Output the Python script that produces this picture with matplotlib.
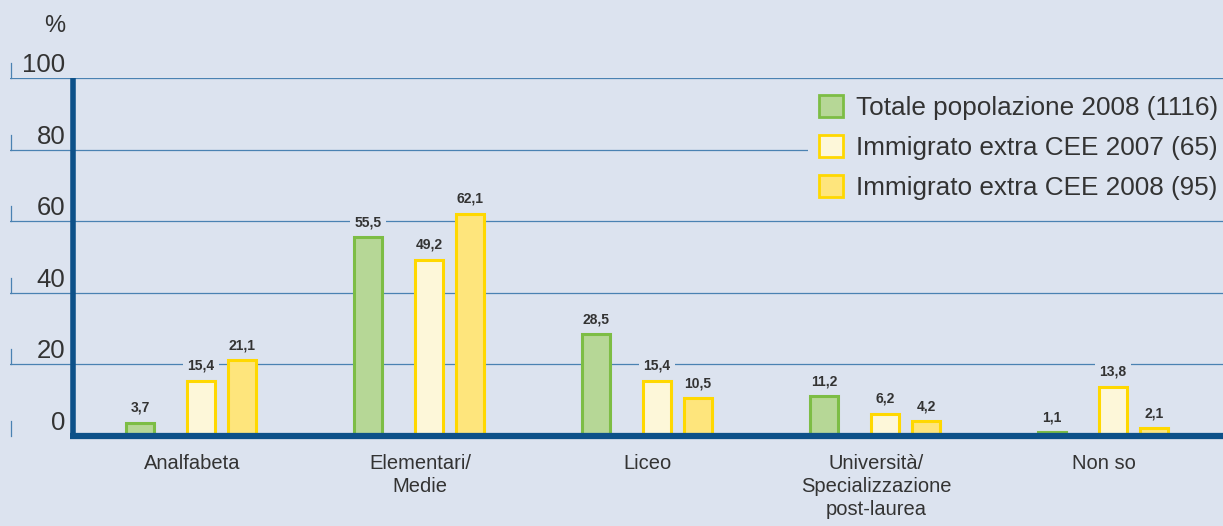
import matplotlib.pyplot as plt
import numpy as np
from matplotlib.patches import Patch
import matplotlib.transforms as mtransforms

categories = ["Analfabeta", "Elementari/\nMedie", "Liceo",
              "Università/\nSpecializzazione\npost-laurea", "Non so"]
series_names = ["Totale popolazione 2008 (1116)",
                "Immigrato extra CEE 2007 (65)",
                "Immigrato extra CEE 2008 (95)"]
totale_2008 = [3.7, 55.5, 28.5, 11.2, 1.1]
immigrati_2007 = [15.4, 49.2, 15.4, 6.2, 13.8]
immigrati_2008 = [21.1, 62.1, 10.5, 4.2, 2.1]
y_ticks = [0, 20, 40, 60, 80, 100]

BG = "#dce3ef"
GRID = "#4a82b2"
AXIS = "#0d5189"
faces = ["#b6d796", "#fdf7d9", "#fee57c"]
edges = ["#7dbd45", "#ffd800", "#ffd800"]
offsets = [-0.224, 0.044, 0.224]
width = 0.123

plt.rcParams["font.family"] = ["Liberation Sans", "DejaVu Sans"]

fig = plt.figure(figsize=(12.23, 5.26), dpi=100, facecolor=BG)
ax = fig.add_axes([10 / 1223, 90 / 526, 1213 / 1223, 358 / 526])
ax.set_facecolor(BG)
ax.set_xlim(-0.794, 4.526)
ax.set_ylim(0, 100)
for s in ax.spines.values():
    s.set_visible(False)

x = np.arange(len(categories))
spine_x = -0.5175
trans = mtransforms.blended_transform_factory(ax.transAxes, ax.transData)

# grid lines with small ticks at the left edge
for v in y_ticks[1:]:
    ax.axhline(v, color=GRID, lw=0.9, zorder=1)
for v in y_ticks:
    ax.plot([0.0005, 0.0005], [v, v + 4.2], color=GRID, lw=0.9,
            transform=trans, clip_on=False, zorder=1)
    ax.text(0.0455, v + 0.3, str(v), transform=trans, ha="right", va="bottom",
            fontsize=18.5, color="#333333")
ax.text(0.0455, 114.5, "%", transform=trans, ha="right", va="center",
        fontsize=17, color="#333333", clip_on=False)

# main axis lines
ax.plot([spine_x, spine_x], [0, 100], color=AXIS, lw=4, zorder=3,
        solid_capstyle="butt")
ax.plot([spine_x - 0.012, 4.526], [0, 0], color=AXIS, lw=4.5, zorder=3,
        solid_capstyle="butt", clip_on=False)

all_series = [totale_2008, immigrati_2007, immigrati_2008]
for vals, off, fc, ec in zip(all_series, offsets, faces, edges):
    ax.bar(x + off, vals, width=width, color=fc, edgecolor=ec, linewidth=2.2,
           zorder=2)
    for xi, v in zip(x + off, vals):
        ax.text(xi, v + 2.2, f"{v:.1f}".replace(".", ","), ha="center",
                va="bottom", fontsize=10, fontweight="bold", color="#333333",
                zorder=4,
                bbox=dict(facecolor=BG, edgecolor="none", pad=3))

ax.set_xticks(x + 0.004)
ax.set_xticklabels(categories, fontsize=14.5, color="#333333",
                   linespacing=1.25)
ax.tick_params(axis="x", length=0, pad=13)
ax.set_yticks([])

handles = [Patch(facecolor=fc, edgecolor=ec, linewidth=2)
           for fc, ec in zip(faces, edges)]
leg = ax.legend(handles, series_names, loc="upper right",
                bbox_to_anchor=(1.005, 0.982), fontsize=18.8, frameon=True,
                facecolor=BG, edgecolor="none", framealpha=1,
                handlelength=0.95, handleheight=0.95, handletextpad=0.5,
                labelspacing=0.56, borderpad=0.4, borderaxespad=0)
for t in leg.get_texts():
    t.set_color("#333333")
leg.set_zorder(5)

fig.savefig("out.png", dpi=100, facecolor=BG)
